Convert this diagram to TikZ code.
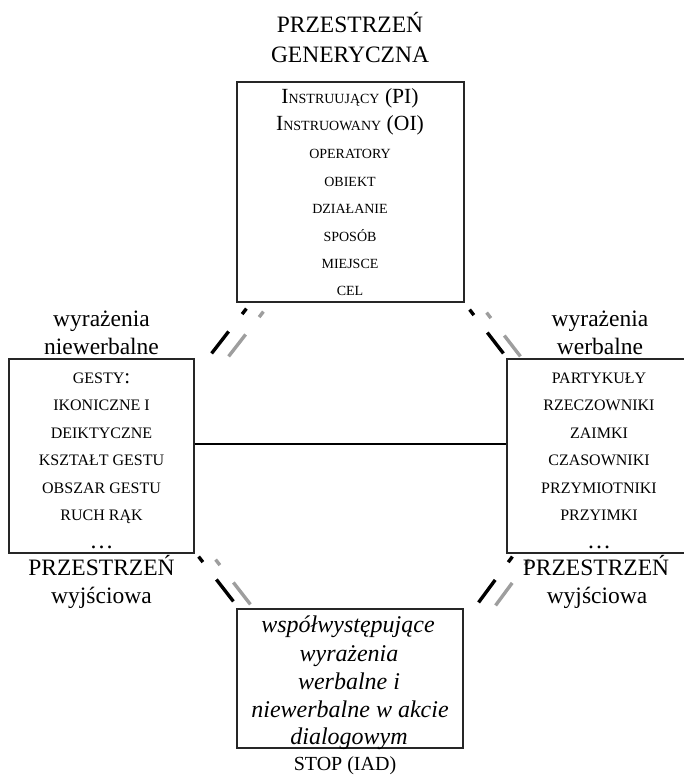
\documentclass[tikz,border=0pt]{standalone}
\usepackage{fontspec}
\setmainfont{Liberation Serif}
\begin{document}
\begin{tikzpicture}[x=1pt,y=-1pt,
  box/.style={draw=black!85, line width=1.2pt, inner sep=0pt},
  lbl/.style={anchor=base, inner sep=0pt, font=\fontsize{23.5}{28}\selectfont},
  itm/.style={anchor=base, inner sep=0pt, font=\fontsize{16}{20}\selectfont},
  sitm/.style={anchor=base, inner sep=0pt, font=\fontsize{14}{18}\selectfont},
  itl/.style={anchor=base, inner sep=0pt, font=\fontsize{24}{28}\selectfont\itshape},
  link/.style={line width=3.4pt, dash pattern=on 7pt off 22pt on 40pt},
  linkshadow/.style={link, draw=black!38}
]
\useasboundingbox (0,0) rectangle (683,776);

% the four spaces
\node[box, minimum width=227pt, minimum height=220pt] (gen) at (350.5,192) {};
\node[box, minimum width=185pt, minimum height=194pt] (nw)  at (101.5,456) {};
\node[box, minimum width=182pt, minimum height=194pt] (vb)  at (598,456) {};
\node[box, minimum width=226pt, minimum height=139pt] (iad) at (350,678.5) {};

% horizontal link between the input spaces
\draw[line width=1.4pt] ([yshift=12pt]nw.east) -- ([yshift=12pt]vb.west);

% end points of the dashed links
\coordinate (a1) at ([shift={(10,6)}]gen.south west);
\coordinate (a2) at ([shift={(17,-5)}]nw.north east);
\coordinate (b1) at ([shift={(5,7)}]gen.south east);
\coordinate (b2) at ([shift={(-3,-5)}]vb.north west);
\coordinate (c1) at ([shift={(4,3)}]nw.south east);
\coordinate (c2) at ([shift={(-3,-7)}]iad.north west);
\coordinate (d1) at ([shift={(6,3)}]vb.south west);
\coordinate (d2) at ([shift={(15,-6)}]iad.north east);

% each dashed link has a grey twin running beside it
\foreach \s/\e in {a1/a2, b1/b2, c1/c2, d1/d2} {
  \draw[linkshadow] ([shift={(17,3)}]\s) -- ([shift={(17,3)}]\e);
  \draw[link] (\s) -- (\e);
}

% generic space
\node[lbl] (g1) at (350,33) {PRZESTRZEŃ};
\node[lbl] (g2) at (350,63) {GENERYCZNA};
\node[anchor=base, inner sep=0pt] (p1) at (350,103)
  {\fontsize{21.6}{24}\selectfont I{\fontsize{14}{18}\selectfont NSTRUUJĄCY} (PI)};
\node[anchor=base, inner sep=0pt] (p2) at (350,130)
  {\fontsize{21.6}{24}\selectfont I{\fontsize{14}{18}\selectfont NSTRUOWANY} (OI)};
\node[sitm] (p3) at (350,158) {OPERATORY};
\node[sitm] (p4) at (350,186) {OBIEKT};
\node[sitm] (p5) at (350,213) {DZIAŁANIE};
\node[sitm] (p6) at (350,241) {SPOSÓB};
\node[sitm] (p7) at (350,268) {MIEJSCE};
\node[sitm] (p8) at (350,295) {CEL};

% non-verbal input space
\node[lbl] (n1) at (101.5,326) {wyrażenia};
\node[lbl] (n2) at (101.5,354) {niewerbalne};
\node[itm] (n3) at (101.5,383) {GESTY{\fontsize{21}{24}\selectfont :}};
\node[itm] (n4) at (101.5,410.5) {IKONICZNE I};
\node[itm] (n5) at (101.5,438) {DEIKTYCZNE};
\node[itm] (n6) at (101.5,465.5) {KSZTAŁT GESTU};
\node[itm] (n7) at (101.5,493) {OBSZAR GESTU};
\node[itm] (n8) at (101.5,520.5) {RUCH RĄK};
\node[itm, font=\fontsize{24}{28}\selectfont] (n9) at (101.5,548) {…};
\node[lbl] (n10) at (101.5,575) {PRZESTRZEŃ};
\node[lbl] (n11) at (101.5,603) {wyjściowa};

% verbal input space
\node[lbl] (v1) at (600,326) {wyrażenia};
\node[lbl] (v2) at (600,354) {werbalne};
\node[itm] (v3) at (599,383) {PARTYKUŁY};
\node[itm] (v4) at (599,410.5) {RZECZOWNIKI};
\node[itm] (v5) at (599,438) {ZAIMKI};
\node[itm] (v6) at (599,465.5) {CZASOWNIKI};
\node[itm] (v7) at (599,493) {PRZYMIOTNIKI};
\node[itm] (v8) at (599,520.5) {PRZYIMKI};
\node[itm, font=\fontsize{24}{28}\selectfont] (v9) at (599,548) {…};
\node[lbl] (v10) at (596,575) {PRZESTRZEŃ};
\node[lbl] (v11) at (597,603) {wyjściowa};

% blended space
\node[itl] (b1t) at (348,632) {współwystępujące};
\node[itl] (b2t) at (349,661) {wyrażenia};
\node[itl] (b3t) at (349,689) {werbalne i};
\node[itl] (b4t) at (350,717) {niewerbalne w akcie};
\node[itl] (b5t) at (349,744) {dialogowym};
\node[anchor=base, inner sep=0pt, font=\fontsize{20}{24}\selectfont] (stop) at (345,770) {STOP (IAD)};
\end{tikzpicture}
\end{document}
